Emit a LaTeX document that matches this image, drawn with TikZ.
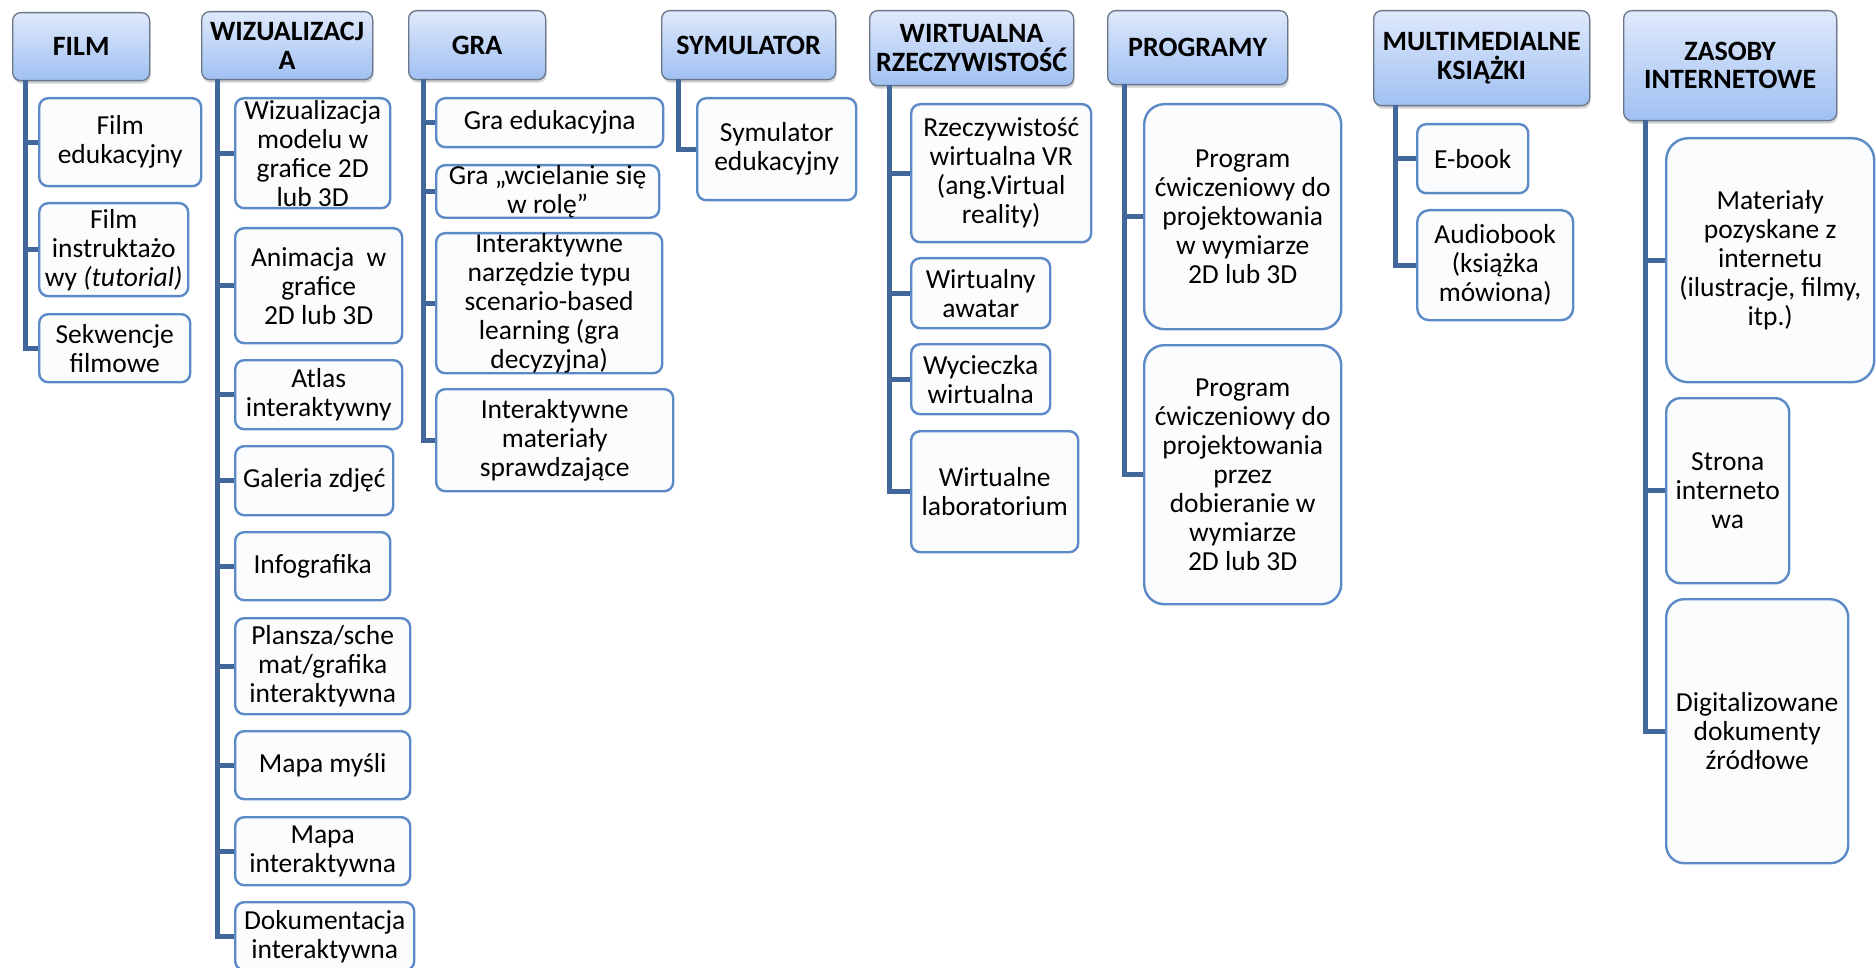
\documentclass[tikz,border=0pt]{standalone}
\usepackage{fontspec}
\setmainfont{Carlito}
\usetikzlibrary{shadows}
\definecolor{Spine}{HTML}{42679B}
\definecolor{LeafLine}{HTML}{5B8AC6}
\definecolor{LeafFill}{HTML}{FBFCFD}
\definecolor{HeadTop}{HTML}{DFE9FB}
\definecolor{HeadBot}{HTML}{A0C0F2}
\definecolor{HeadLine}{HTML}{6A7789}
\tikzset{head/.style={anchor=north west,rounded corners=8pt,top color=HeadTop,bottom color=HeadBot,draw=HeadLine,line width=1.3pt,drop shadow={shadow xshift=1pt,shadow yshift=-3pt,opacity=.35},align=center,inner sep=0pt,font=\fontsize{28}{28.5}\selectfont\bfseries},leaf/.style={anchor=north west,rounded corners=9pt,fill=LeafFill,draw=LeafLine,line width=2.4pt,align=center,inner sep=0pt,font=\fontsize{27.5}{29}\selectfont}}
\tikzset{spine/.style={draw=Spine,line width=5pt}}

\begin{document}
\begin{tikzpicture}[x=1pt,y=-1pt]
\useasboundingbox (0,0) rectangle (1876,968);
\fill[white] (0,0) rectangle (1876,968);
\clip (0,0) rectangle (1876,968);
% film
\node[head,minimum width=137pt,minimum height=68pt] (film) at (12,12) {FILM};
\node[leaf,minimum width=162pt,minimum height=88pt] (film1) at (38,97) {Film\\edukacyjny};
\node[leaf,minimum width=149pt,minimum height=93pt] (film2) at (38,202) {Film\\instruktażo\\wy \textit{(tutorial)}};
\node[leaf,minimum width=151pt,minimum height=68pt] (film3) at (38,313) {Sekwencje\\filmowe};
\coordinate (filmS) at (25,80);
\foreach \c in {film1,film2,film3} \draw[spine] (filmS) |- (\c.west);
% wizualizacja
\node[head,minimum width=171pt,minimum height=68pt] (wiz) at (201,11) {WIZUALIZACJ\\A};
\node[leaf,minimum width=155pt,minimum height=110pt] (wiz1) at (234,97) {Wizualizacja\\modelu w\\grafice 2D\\lub 3D};
\node[leaf,minimum width=167pt,minimum height=115pt] (wiz2) at (234,227) {Animacja\ \ w\\grafice\\2D lub 3D};
\node[leaf,minimum width=167pt,minimum height=69pt] (wiz3) at (234,359) {Atlas\\interaktywny};
\node[leaf,minimum width=158pt,minimum height=69pt] (wiz4) at (234,445) {Galeria zdjęć};
\node[leaf,minimum width=155pt,minimum height=68pt] (wiz5) at (234,531) {Infografika};
\node[leaf,minimum width=175pt,minimum height=96pt] (wiz6) at (234,617) {Plansza/sche\\mat/grafika\\interaktywna};
\node[leaf,minimum width=175pt,minimum height=68pt] (wiz7) at (234,730) {Mapa myśli};
\node[leaf,minimum width=175pt,minimum height=68pt] (wiz8) at (234,816) {Mapa\\interaktywna};
\node[leaf,minimum width=179pt,minimum height=68pt] (wiz9) at (234,901) {Dokumentacja\\interaktywna};
\coordinate (wizS) at (217,79);
\foreach \c in {wiz1,wiz2,wiz3,wiz4,wiz5,wiz6,wiz7,wiz8,wiz9} \draw[spine] (wizS) |- (\c.west);
% gra
\node[head,minimum width=137pt,minimum height=69pt] (gra) at (408,10) {GRA};
\node[leaf,minimum width=227pt,minimum height=49pt] (gra1) at (435,97) {Gra edukacyjna};
\node[leaf,minimum width=223pt,minimum height=50pt] (gra2) at (435,164) {Gra „wcielanie się\\w rolę”};
\node[leaf,minimum width=226pt,minimum height=140pt] (gra3) at (435,232) {Interaktywne\\narzędzie typu\\scenario-based\\learning (gra\\decyzyjna)};
\node[leaf,minimum width=237pt,minimum height=102pt] (gra4) at (435,388) {Interaktywne\\materiały\\sprawdzające};
\coordinate (graS) at (423,79);
\foreach \c in {gra1,gra2,gra3,gra4} \draw[spine] (graS) |- (\c.west);
% symulator
\node[head,minimum width=174pt,minimum height=69pt] (sym) at (661,10) {SYMULATOR};
\node[leaf,minimum width=159pt,minimum height=102pt] (sym1) at (696,97) {Symulator\\edukacyjny};
\coordinate (symS) at (678,79);
\draw[spine] (symS) |- (sym1.west);
% wirtualna rzeczywistosc
\node[head,minimum width=204pt,minimum height=75pt] (wir) at (869,10) {WIRTUALNA\\RZECZYWISTOŚĆ};
\node[leaf,minimum width=180pt,minimum height=138pt] (wir1) at (910,103) {Rzeczywistość\\wirtualna VR\\(ang.Virtual\\reality)};
\node[leaf,minimum width=139pt,minimum height=70pt] (wir2) at (910,257) {Wirtualny\\awatar};
\node[leaf,minimum width=139pt,minimum height=70pt] (wir3) at (910,343) {Wycieczka\\wirtualna};
\node[leaf,minimum width=167pt,minimum height=121pt] (wir4) at (910,430) {Wirtualne\\laboratorium};
\coordinate (wirS) at (889,85);
\foreach \c in {wir1,wir2,wir3,wir4} \draw[spine] (wirS) |- (\c.west);
% programy
\node[head,minimum width=180pt,minimum height=74pt] (pro) at (1107,10) {PROGRAMY};
\node[leaf,rounded corners=20pt,minimum width=197pt,minimum height=225pt] (pro1) at (1143,103) {Program\\ćwiczeniowy do\\projektowania\\w wymiarze\\2D lub 3D};
\node[leaf,rounded corners=20pt,minimum width=197pt,minimum height=259pt] (pro2) at (1143,344) {Program\\ćwiczeniowy do\\projektowania\\przez\\dobieranie w\\wymiarze\\2D lub 3D};
\coordinate (proS) at (1124,84);
\foreach \c in {pro1,pro2} \draw[spine] (proS) |- (\c.west);
% multimedialne ksiazki
\node[head,minimum width=216pt,minimum height=95pt] (mul) at (1373,10) {MULTIMEDIALNE\\KSIĄŻKI};
\node[leaf,minimum width=111pt,minimum height=69pt] (mul1) at (1416,123) {E-book};
\node[leaf,rounded corners=12pt,minimum width=156pt,minimum height=110pt] (mul2) at (1416,209) {Audiobook\\(książka\\mówiona)};
\coordinate (mulS) at (1395,105);
\foreach \c in {mul1,mul2} \draw[spine] (mulS) |- (\c.west);
% zasoby internetowe
\node[head,minimum width=213pt,minimum height=110pt] (zas) at (1623,10) {ZASOBY\\INTERNETOWE};
\node[leaf,rounded corners=22pt,minimum width=208pt,minimum height=244pt] (zas1) at (1665,137) {Materiały\\pozyskane z\\internetu\\(ilustracje, filmy,\\itp.)};
\node[leaf,rounded corners=14pt,minimum width=123pt,minimum height=185pt] (zas2) at (1665,397) {Strona\\interneto\\wa};
\node[leaf,rounded corners=18pt,minimum width=182pt,minimum height=264pt] (zas3) at (1665,598) {Digitalizowane\\dokumenty\\źródłowe};
\coordinate (zasS) at (1645,120);
\foreach \c in {zas1,zas2,zas3} \draw[spine] (zasS) |- (\c.west);
\end{tikzpicture}
\end{document}
